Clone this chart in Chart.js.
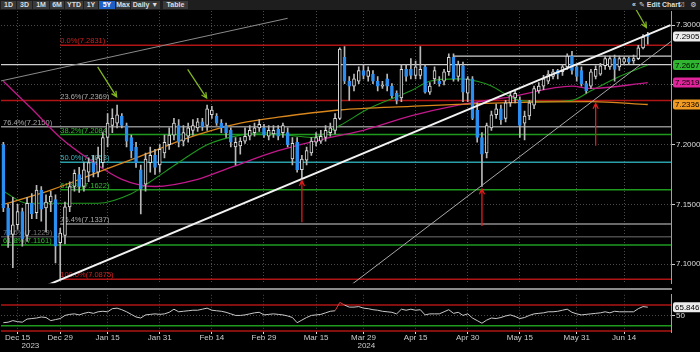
<!DOCTYPE html>
<html>
<head>
<meta charset="utf-8">
<title>USDCNH daily</title>
<script src="https://cdn.jsdelivr.net/npm/chart.js@4.4.1/dist/chart.umd.min.js"></script>
<style>
  body { margin:0; background:#000; width:700px; height:352px; overflow:hidden; position:relative; font-family:Arial, "Liberation Sans", sans-serif; }
  #c1 { position:absolute; left:0; top:0; }
  #c2 { position:absolute; left:0; top:289px; }
  #sep { position:absolute; left:0; top:288px; width:672px; height:2px; background:#8a8a8a; }
  #bar { position:absolute; left:0; top:0; width:700px; height:10px; background:#1e1e1e; color:#ddd; font:bold 7px Arial, "DejaVu Sans", sans-serif; }
  #bar span { position:absolute; top:1px; height:8px; line-height:8px; text-align:center; background:#3a3a3a; white-space:nowrap; }
  #bar span.on { background:#1d5fc4; color:#fff; }
  #bar span.t { background:none; }
</style>
</head>
<body>
<canvas id="c1" width="700" height="289" style="width:700px;height:289px"></canvas>
<div id="sep"></div>
<canvas id="c2" width="700" height="63" style="width:700px;height:63px"></canvas>
<div id="bar">
  <span style="left:1px;width:15px">1D</span>
  <span style="left:17px;width:15px">3D</span>
  <span style="left:33px;width:16px">1M</span>
  <span style="left:50px;width:14px">6M</span>
  <span style="left:65px;width:18px">YTD</span>
  <span style="left:84px;width:14px">1Y</span>
  <span class="on" style="left:99px;width:16px">5Y</span>
  <span style="left:116px;width:14px">Max</span>
  <span style="left:131px;width:29px">Daily ▼</span>
  <span style="left:163px;width:25px">Table</span>
  <span class="t" style="left:630px;width:8px">«</span>
  <span class="t" style="left:639px;width:34px">✎ Edit Chart</span>
  <span class="t" style="left:677px;width:9px">☑</span>
  <span class="t" style="left:689px;width:9px">⚙</span>
</div>
<script>
Chart.defaults.font.family = 'Arial, "Liberation Sans", sans-serif';

// daily candles, Dec 12 2023 .. Jun 21 2024 (index = trading day)
var openP = [7.200,7.147,7.125,7.133,7.144,7.124,7.151,7.143,7.162,7.147,
  7.152,7.154,7.118,7.124,7.148,7.165,7.175,7.165,7.177,7.185,
  7.177,7.185,7.206,7.216,7.218,7.224,7.216,7.206,7.198,7.179,
  7.167,7.185,7.191,7.183,7.193,7.200,7.208,7.216,7.203,7.207,
  7.212,7.214,7.219,7.216,7.225,7.224,7.218,7.216,7.212,7.198,
  7.199,7.203,7.207,7.210,7.214,7.214,7.207,7.209,7.213,7.210,
  7.210,7.188,7.202,7.179,7.187,7.193,7.202,7.203,7.206,7.210,
  7.212,7.222,7.273,7.253,7.249,7.253,7.262,7.257,7.259,7.253,
  7.249,7.255,7.249,7.243,7.239,7.263,7.263,7.258,7.258,7.265,
  7.244,7.255,7.253,7.253,7.261,7.273,7.257,7.266,7.243,7.255,
  7.229,7.206,7.193,7.214,7.225,7.230,7.222,7.235,7.239,7.237,
  7.218,7.224,7.233,7.245,7.249,7.253,7.257,7.262,7.261,7.265,
  7.274,7.265,7.262,7.251,7.249,7.257,7.259,7.266,7.265,7.272,
  7.265,7.269,7.272,7.270,7.272,7.281,7.292];
var highP = [7.202,7.150,7.156,7.150,7.147,7.156,7.159,7.166,7.165,7.158,
  7.161,7.158,7.130,7.152,7.169,7.179,7.181,7.185,7.189,7.191,
  7.198,7.210,7.226,7.230,7.233,7.226,7.218,7.208,7.202,7.183,
  7.193,7.198,7.196,7.200,7.208,7.214,7.222,7.221,7.216,7.218,
  7.221,7.222,7.222,7.233,7.232,7.226,7.221,7.218,7.214,7.206,
  7.206,7.214,7.216,7.218,7.221,7.217,7.216,7.216,7.216,7.218,
  7.214,7.206,7.206,7.191,7.198,7.206,7.210,7.212,7.216,7.218,
  7.226,7.281,7.282,7.257,7.259,7.265,7.267,7.265,7.262,7.257,
  7.253,7.259,7.251,7.245,7.267,7.267,7.272,7.270,7.282,7.267,
  7.252,7.265,7.257,7.263,7.276,7.276,7.270,7.269,7.257,7.257,
  7.235,7.210,7.218,7.228,7.234,7.233,7.237,7.244,7.245,7.240,
  7.228,7.237,7.249,7.252,7.258,7.262,7.263,7.263,7.267,7.276,
  7.278,7.267,7.265,7.253,7.263,7.266,7.268,7.274,7.274,7.275,
  7.274,7.273,7.273,7.275,7.283,7.292,7.294];
var lowP = [7.144,7.114,7.097,7.129,7.115,7.119,7.138,7.138,7.136,7.127,
  7.144,7.101,7.0875,7.117,7.144,7.161,7.160,7.161,7.169,7.173,
  7.173,7.181,7.198,7.210,7.214,7.214,7.198,7.189,7.181,7.142,
  7.161,7.177,7.175,7.177,7.189,7.196,7.204,7.198,7.199,7.202,
  7.208,7.211,7.212,7.212,7.222,7.216,7.210,7.206,7.198,7.183,
  7.192,7.201,7.204,7.207,7.211,7.206,7.204,7.206,7.204,7.206,
  7.198,7.183,7.177,7.172,7.183,7.191,7.199,7.201,7.203,7.207,
  7.209,7.221,7.251,7.237,7.245,7.251,7.255,7.253,7.251,7.245,
  7.247,7.245,7.239,7.234,7.236,7.253,7.255,7.255,7.255,7.243,
  7.242,7.251,7.249,7.250,7.258,7.253,7.253,7.236,7.236,7.221,
  7.202,7.165,7.189,7.212,7.222,7.217,7.219,7.232,7.235,7.206,
  7.204,7.221,7.230,7.243,7.246,7.251,7.255,7.255,7.258,7.263,
  7.259,7.253,7.249,7.243,7.247,7.255,7.258,7.263,7.263,7.253,
  7.262,7.267,7.267,7.268,7.271,7.280,7.284];
var closeP = [7.147,7.124,7.133,7.144,7.121,7.151,7.142,7.162,7.146,7.152,
  7.157,7.115,7.126,7.148,7.165,7.176,7.165,7.179,7.185,7.177,
  7.189,7.206,7.218,7.222,7.225,7.216,7.203,7.195,7.185,7.163,
  7.188,7.191,7.181,7.196,7.202,7.208,7.218,7.202,7.210,7.214,
  7.216,7.219,7.215,7.230,7.229,7.218,7.214,7.210,7.202,7.202,
  7.203,7.207,7.212,7.214,7.217,7.208,7.212,7.212,7.207,7.216,
  7.200,7.201,7.179,7.188,7.195,7.203,7.206,7.207,7.212,7.214,
  7.222,7.280,7.253,7.249,7.255,7.262,7.258,7.262,7.253,7.249,
  7.250,7.249,7.241,7.237,7.263,7.257,7.258,7.265,7.263,7.244,
  7.249,7.262,7.251,7.261,7.273,7.255,7.267,7.244,7.255,7.222,
  7.206,7.192,7.216,7.225,7.230,7.221,7.235,7.241,7.243,7.216,
  7.224,7.235,7.247,7.249,7.255,7.259,7.261,7.259,7.265,7.274,
  7.262,7.257,7.251,7.245,7.261,7.263,7.266,7.272,7.272,7.263,
  7.272,7.272,7.269,7.272,7.281,7.290,7.2905];

// RSI (14) lower panel
var rsiVals = [36,37,40,38,37,43,44,45,47,46, 40,42,44,50,52,53,51,54,56,54,
  57,58,57,63,64,61,57,52,47,45, 51,52,53,52,53,56,62,57,58,59,
  60,60,62,64,60,59,58,56,53,50, 50,51,53,55,56,51,52,53,52,51,
  49,46,36,41,46,50,51,52,55,58, 59,75,70,66,66,67,64,63,61,60,
  58,57,56,53,62,60,62,60,61,51, 53,53,53,57,61,54,56,50,53,45,
  40,35,41,45,44,46,49,51,48,44, 46,50,53,54,55,57,57,58,60,62,
  56,53,51,52,53,54,55,57,55,58, 57,57,57,57,63,67,65.8469];
var rsiLevels = [70, 30, 20];

// moving averages, read at a few trading-day positions
var orangeX = [0,10,20,28,32,37,44,50,58,71,86,105,124,136];
var orangeY = [7.150,7.162,7.177,7.189,7.195,7.203,7.212,7.218,7.223,7.229,7.232,7.235,7.236,7.2336];
var greenX = [0,5,20,27,31,37,43,50,55,60,65,71,77,86,90,96,100,103,107,109,114,120,124,130,136];
var greenY = [7.161,7.151,7.151,7.159,7.169,7.185,7.200,7.208,7.210,7.208,7.206,7.216,7.230,7.245,7.253,7.255,7.253,7.249,7.240,7.237,7.236,7.237,7.245,7.257,7.2667];
var magentaX = [0,6,12,18,25,32,41,48,58,69,76,86,96,107,120,124,136];
var magentaY = [7.253,7.230,7.206,7.188,7.171,7.165,7.171,7.181,7.195,7.206,7.212,7.224,7.233,7.240,7.249,7.247,7.2519];

// fibonacci retracements (start = trading day where the line begins)
var fibLevels = [7.2831,7.2369,7.2084,7.1853,7.1622,7.1337,7.0875];
var fibTags = ['0.0%','23.6%','38.2%','50.0%','61.8%','76.4%','100.0%'];
var fibStart = [12,-0.5,12,12,12,12,12];
var fibLabelAt = 12;
var fib2Levels = [7.2150,7.1229,7.1161];
var fib2Tags = ['76.4%','78.6%','61.8%'];
var flatLevels = [7.2670, 7.2740];
var flatStart = [-0.5, 95];

// trend lines (trading-day position, price)
var trendX = [9.3, 140.8], trendY = [7.0825, 7.3000];
var trend2X = [73.6, 140.9], trend2Y = [7.0833, 7.2863];
var fanX = [-0.5, 60], fanY = [7.2533, 7.3057];

var tickIdx = [3,12,22,33,44,55,66,76,87,98,109,121,131];
var tickText = ['Dec 15','Dec 29','Jan 15','Jan 31','Feb 14','Feb 29','Mar 15','Mar 29','Apr 15','Apr 30','May 15','May 31','Jun 14'];
var yearIdx = [5.7, 76.6], yearText = ['2023','2024'];
var priceTicks = [7.10, 7.15, 7.20, 7.25, 7.30];

var greenArrows = [[19.9,7.265,23.9,7.240],[38.9,7.263,42.9,7.239],[133.1,7.316,135.7,7.298]];
var redArrows = [[63,7.135,63,7.170],[101,7.132,101,7.163],[125,7.199,125,7.2345]];

var X_MIN = -0.5, X_MAX = 140.9;
var BLUE = '#2b8ef0', RED = '#b01414', GREEN = '#1f9a1f', TEAL = '#2a9fa8', GREY = '#8c8c8c';
var fibColors = [RED, RED, GREEN, TEAL, GREEN, GREY, RED];
var fibText = ['#d02020', '#aaaaaa', '#2fbf2f', '#3fb6c0', '#2fbf2f', '#aaaaaa', '#d02020'];
var fib2Colors = [GREY, '#4a4a4a', GREEN];
var fib2Text = ['#aaaaaa', '#777777', '#2fbf2f'];

function pts(xs, ys) { return xs.map(function (x, i) { return { x: x, y: ys[i] }; }); }
function hline(v, from, to, color, w, order) {
  return { type: 'line', data: [{ x: from, y: v }, { x: to, y: v }], borderColor: color, borderWidth: w, pointRadius: 0, order: order };
}
function arrow(ctx, x1, y1, x2, y2, color) {
  var a = Math.atan2(y2 - y1, x2 - x1), h = 6;
  ctx.strokeStyle = color; ctx.lineWidth = 1.3;
  ctx.beginPath();
  ctx.moveTo(x1, y1); ctx.lineTo(x2, y2);
  ctx.moveTo(x2 - h * Math.cos(a - 0.45), y2 - h * Math.sin(a - 0.45)); ctx.lineTo(x2, y2);
  ctx.lineTo(x2 - h * Math.cos(a + 0.45), y2 - h * Math.sin(a + 0.45));
  ctx.stroke();
}
function valueBox(ctx, yPix, text, bg, fg) {
  ctx.fillStyle = bg;
  ctx.beginPath();
  ctx.roundRect(673, yPix - 5, 30, 10, 2);
  ctx.fill();
  ctx.fillStyle = fg;
  ctx.font = '8px Arial';
  ctx.textAlign = 'left'; ctx.textBaseline = 'middle';
  ctx.fillText(text, 675, yPix + 0.5);
}
function xAxis(showLabels) {
  return {
    type: 'linear', min: X_MIN, max: X_MAX, offset: false,
    afterBuildTicks: function (s) { s.ticks = tickIdx.map(function (v) { return { value: v }; }); },
    afterFit: function (s) { s.height = showLabels ? 20 : 0; },
    ticks: { display: showLabels, color: '#cccccc', font: { size: 8 }, padding: -1, maxRotation: 0, autoSkip: false,
      callback: function (v) { return tickText[tickIdx.indexOf(v)]; } },
    grid: { offset: false, color: '#4a4a4a', drawTicks: showLabels, tickColor: '#dddddd', tickLength: 2 },
    border: { display: false, dash: [1, 2] }
  };
}

var datasets = [];
fibLevels.forEach(function (v, i) { datasets.push(hline(v, fibStart[i], X_MAX, fibColors[i], 1.5, 6)); });
fib2Levels.forEach(function (v, i) { datasets.push(hline(v, X_MIN, X_MAX, fib2Colors[i], 1.5, 6)); });
flatLevels.forEach(function (v, i) { datasets.push(hline(v, flatStart[i], X_MAX, '#cfcfcf', 1.2, 6)); });
datasets.push({ type: 'line', data: pts(orangeX, orangeY), borderColor: '#d9861c', borderWidth: 1.3, pointRadius: 0, cubicInterpolationMode: 'monotone', order: 5 });
datasets.push({ type: 'line', data: pts(magentaX, magentaY), borderColor: '#c0198a', borderWidth: 1.3, pointRadius: 0, cubicInterpolationMode: 'monotone', order: 5 });
datasets.push({ type: 'line', data: pts(greenX, greenY), borderColor: '#1f9a1f', borderWidth: 1.1, pointRadius: 0, cubicInterpolationMode: 'monotone', order: 5 });
datasets.push({
  type: 'bar', grouped: false, barThickness: 1, order: 3,
  data: lowP.map(function (l, i) { return { x: i, y: [l, highP[i]] }; }),
  backgroundColor: '#b8b8b8'
});
datasets.push({
  type: 'bar', grouped: false, barThickness: 3, order: 2, borderWidth: 1, borderSkipped: false,
  data: openP.map(function (o, i) { return { x: i, y: [o, closeP[i]] }; }),
  backgroundColor: openP.map(function (o, i) { return closeP[i] >= o ? '#000' : BLUE; }),
  borderColor: openP.map(function (o, i) { return closeP[i] >= o ? '#dcdcdc' : BLUE; })
});
datasets.push({ type: 'line', data: pts(trendX, trendY), borderColor: '#f2f2f2', borderWidth: 2, pointRadius: 0, order: 1 });
datasets.push({ type: 'line', data: pts(trend2X, trend2Y), borderColor: '#a8a8a8', borderWidth: 1, pointRadius: 0, order: 1 });
datasets.push({ type: 'line', data: pts(fanX, fanY), borderColor: '#8a8a8a', borderWidth: 1, pointRadius: 0, order: 1 });

var annot = {
  id: 'annot',
  beforeDatasetsDraw: function (chart) {
    var ctx = chart.ctx, x = chart.scales.x, y = chart.scales.y;
    ctx.save();
    ctx.font = '7.5px Arial';
    ctx.textAlign = 'left'; ctx.textBaseline = 'alphabetic';
    fibLevels.forEach(function (v, i) {
      ctx.fillStyle = fibText[i];
      ctx.fillText(fibTags[i] + '(' + v.toFixed(4) + ')', x.getPixelForValue(fibLabelAt), y.getPixelForValue(v) - 2);
    });
    fib2Levels.forEach(function (v, i) {
      ctx.fillStyle = fib2Text[i];
      ctx.fillText(fib2Tags[i] + '(' + v.toFixed(4) + ')', 3, y.getPixelForValue(v) - 2);
    });
    ctx.restore();
  },
  afterDatasetsDraw: function (chart) {
    var ctx = chart.ctx, x = chart.scales.x, y = chart.scales.y;
    ctx.save();
    greenArrows.forEach(function (a) { arrow(ctx, x.getPixelForValue(a[0]), y.getPixelForValue(a[1]), x.getPixelForValue(a[2]), y.getPixelForValue(a[3]), '#82b421'); });
    redArrows.forEach(function (a) { arrow(ctx, x.getPixelForValue(a[0]), y.getPixelForValue(a[1]), x.getPixelForValue(a[2]), y.getPixelForValue(a[3]), '#e01c1c'); });
    ctx.restore();
  },
  afterDraw: function (chart) {
    var ctx = chart.ctx, y = chart.scales.y;
    ctx.save();
    var last = closeP.length - 1;
    valueBox(ctx, y.getPixelForValue(closeP[last]), closeP[last].toFixed(4), '#ececec', '#000');
    valueBox(ctx, y.getPixelForValue(greenY[greenY.length - 1]), greenY[greenY.length - 1].toFixed(4), '#2fb52f', '#000');
    valueBox(ctx, y.getPixelForValue(magentaY[magentaY.length - 1]), magentaY[magentaY.length - 1].toFixed(4), '#e0249a', '#000');
    valueBox(ctx, y.getPixelForValue(orangeY[orangeY.length - 1]), orangeY[orangeY.length - 1].toFixed(4), '#f29b22', '#000');
    ctx.restore();
  }
};

new Chart(document.getElementById('c1').getContext('2d'), {
  type: 'bar',
  data: { datasets: datasets },
  options: {
    responsive: false, animation: false, devicePixelRatio: 1,
    layout: { padding: { top: 11, bottom: 1, left: 1, right: 0 } },
    plugins: { legend: { display: false }, tooltip: { enabled: false } },
    scales: {
      x: xAxis(false),
      y: {
        position: 'right', min: 7.0841, max: 7.3118,
        afterBuildTicks: function (s) { s.ticks = priceTicks.map(function (v) { return { value: v }; }); },
        afterFit: function (s) { s.width = 29; },
        ticks: { color: '#dddddd', font: { size: 8 }, padding: 1, callback: function (v) { return v.toFixed(4); } },
        grid: { color: '#4a4a4a', tickColor: '#cccccc', tickLength: 4 },
        border: { color: '#a0a0a0', dash: [1, 2] }
      }
    }
  },
  plugins: [annot]
});

var rsiAnnot = {
  id: 'rsiAnnot',
  afterDraw: function (chart) {
    var ctx = chart.ctx, x = chart.scales.x, y = chart.scales.y;
    ctx.save();
    ctx.fillStyle = '#cccccc';
    ctx.font = '8px Arial';
    ctx.textAlign = 'center'; ctx.textBaseline = 'middle';
    yearIdx.forEach(function (v, i) { ctx.fillText(yearText[i], x.getPixelForValue(v), 57); });
    var last = rsiVals[rsiVals.length - 1];
    valueBox(ctx, y.getPixelForValue(last), last.toFixed(4), '#ececec', '#000');
    ctx.restore();
  }
};

var rsiSets = [];
rsiLevels.forEach(function (v, i) { rsiSets.push(hline(v, X_MIN, X_MAX, i === 1 ? GREEN : RED, 1.5, 3)); });
rsiSets.push({
  type: 'line', data: rsiVals.map(function (v, i) { return { x: i, y: v }; }),
  borderColor: '#c8c8c8', borderWidth: 1, pointRadius: 0, order: 1,
  segment: { borderColor: function (c) { return (c.p0.parsed.y > 70 || c.p1.parsed.y > 70) ? '#e03a3a' : undefined; } }
});

new Chart(document.getElementById('c2').getContext('2d'), {
  type: 'line',
  data: { datasets: rsiSets },
  options: {
    responsive: false, animation: false, devicePixelRatio: 1,
    layout: { padding: { top: 1, bottom: 0, left: 1, right: 0 } },
    plugins: { legend: { display: false }, tooltip: { enabled: false } },
    scales: {
      x: xAxis(true),
      y: {
        position: 'right', min: 18.1, max: 89.7,
        afterBuildTicks: function (s) { s.ticks = [{ value: 50 }]; },
        afterFit: function (s) { s.width = 29; },
        ticks: { color: '#dddddd', font: { size: 8 }, padding: 1 },
        grid: { color: '#4a4a4a', tickColor: '#cccccc', tickLength: 4 },
        border: { color: '#a0a0a0', dash: [1, 2] }
      }
    }
  },
  plugins: [rsiAnnot]
});
</script>
</body>
</html>
